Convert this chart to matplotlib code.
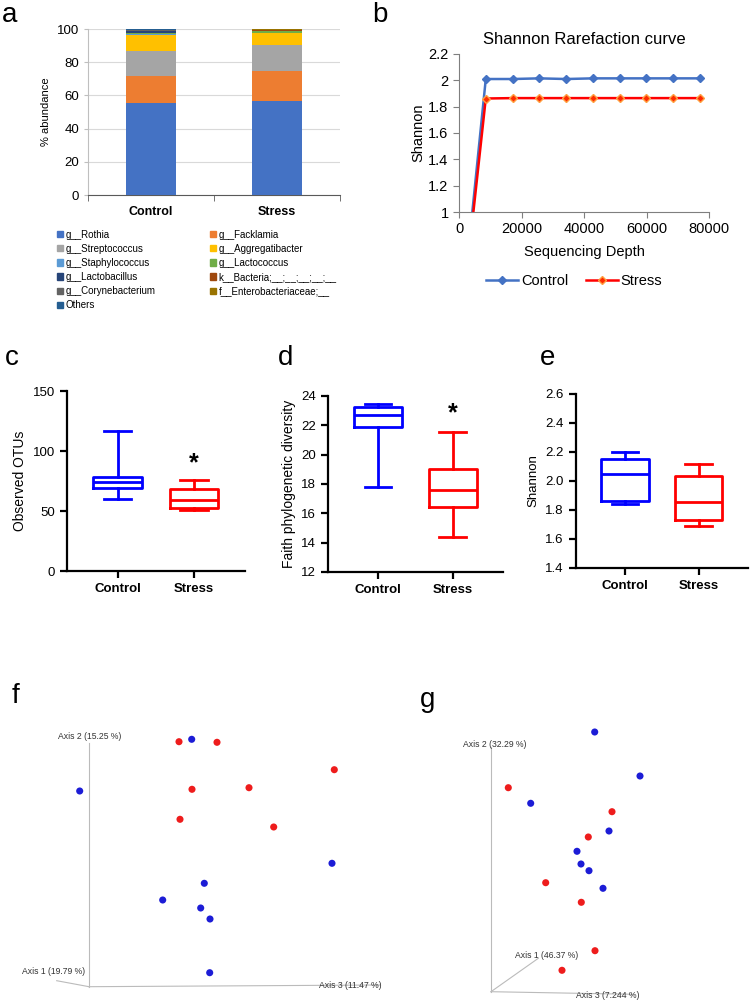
import matplotlib
matplotlib.use('agg')
import matplotlib.pyplot as plt
import matplotlib.ticker as tick
from matplotlib.patches import Patch

plt.rcParams['font.family'] = ['Liberation Sans', 'DejaVu Sans']

# ---- panel a: stacked taxa abundance ----
groups = ['Control', 'Stress']
taxa = ['g__Rothia', 'g__Facklamia', 'g__Streptococcus', 'g__Aggregatibacter',
        'g__Staphylococcus', 'g__Lactococcus', 'g__Lactobacillus',
        'k__Bacteria;__;__;__;__;__', 'g__Corynebacterium',
        'f__Enterobacteriaceae;__', 'Others']
taxa_colors = ['#4472C4', '#ED7D31', '#A5A5A5', '#FFC000', '#5B9BD5', '#70AD47',
               '#264478', '#9E480E', '#636363', '#997300', '#255E91']
control_abund = [55.5, 16.0, 15.5, 9.5, 0.5, 0.6, 1.2, 0.2, 0.3, 0.1, 0.6]
stress_abund = [56.7, 17.8, 16.0, 7.0, 0.3, 0.7, 0.3, 0.4, 0.3, 0.2, 0.3]

# ---- panel b: rarefaction ----
depth = [1, 8570, 17140, 25710, 34280, 42850, 51420, 59990, 68560, 77130]
rare_control = [0, 2.010, 2.010, 2.015, 2.010, 2.015, 2.015, 2.015, 2.015, 2.015]
rare_stress = [0, 1.862, 1.865, 1.865, 1.865, 1.865, 1.865, 1.865, 1.865, 1.865]

# ---- panels c-e: box summaries (whislo, q1, med, q3, whishi) ----
otu_control = [60.0, 68.9, 74.2, 78.3, 116.9]
otu_stress = [51.1, 52.8, 58.9, 68.6, 75.8]
faith_control = [17.8, 21.9, 22.68, 23.23, 23.48]
faith_stress = [14.4, 16.45, 17.6, 19.04, 21.57]
shan_control = [1.839, 1.859, 2.045, 2.154, 2.197]
shan_stress = [1.69, 1.728, 1.857, 2.032, 2.119]

# ---- panels f, g: projected PCoA coordinates ----
f_red_x = [179, 217, 334.3, 192, 249, 180, 273.7]
f_red_y = [741.7, 742.3, 769.7, 789.3, 787.7, 819.3, 827]
f_blue_x = [191.7, 79.7, 332, 204.3, 162.7, 200.7, 210, 209.7]
f_blue_y = [739.3, 791, 863.3, 883.3, 900, 908, 919, 972.7]
g_blue_x = [594.7, 640, 530.7, 609, 577, 581, 589, 603]
g_blue_y = [732, 776, 803.3, 831, 851.3, 864, 870.7, 888.3]
g_red_x = [508.3, 612, 588.3, 545.7, 581.3, 595, 562]
g_red_y = [787.7, 811.7, 837, 882.7, 902.3, 950.7, 970.3]
f_axis_labels = ['Axis 1 (19.79 %)', 'Axis 2 (15.25 %)', 'Axis 3 (11.47 %)']
g_axis_labels = ['Axis 1 (46.37 %)', 'Axis 2 (32.29 %)', 'Axis 3 (7.244 %)']

W, H = 750.0, 1000.0
fig = plt.figure(figsize=(7.5, 10), dpi=100)


def px_axes(x0, y0, x1, y1):
    return fig.add_axes([x0 / W, 1 - y1 / H, (x1 - x0) / W, (y1 - y0) / H])


def panel_label(x, y, s):
    fig.text(x / W, 1 - y / H, s, fontsize=20, ha='left', va='baseline')


# ===== a =====
ax = px_axes(88, 29, 340, 195)
bottom = [0, 0]
handles = []
for i, name in enumerate(taxa):
    vals = [control_abund[i], stress_abund[i]]
    ax.bar([0, 1], vals, width=0.4, bottom=bottom, color=taxa_colors[i], zorder=3)
    bottom = [bottom[0] + vals[0], bottom[1] + vals[1]]
    handles.append(Patch(color=taxa_colors[i], label=name))
ax.set_xlim(-0.5, 1.5)
ax.set_ylim(0, 100)
ax.yaxis.set_major_locator(tick.MultipleLocator(20))
ax.grid(axis='y', color='#D9D9D9', lw=0.8, zorder=0)
for s in ['top', 'right']:
    ax.spines[s].set_visible(False)
ax.spines['left'].set_color('#BFBFBF')
ax.spines['bottom'].set_color('#595959')
ax.set_xticks([0, 1])
ax.set_xticklabels(groups, fontsize=9, fontweight='bold')
ax.set_xticks([-0.5, 0.5, 1.5], minor=True)
ax.tick_params(axis='x', which='major', length=0, pad=8)
ax.tick_params(axis='x', which='minor', length=4, color='#595959')
ax.tick_params(axis='y', length=3, labelsize=9.5, color='#BFBFBF')
ax.set_ylabel('% abundance', fontsize=8)
order = [0, 2, 4, 6, 8, 10, 1, 3, 5, 7, 9]
leg = ax.legend([handles[k] for k in order], [taxa[k] for k in order], ncol=2,
                loc='upper left', bbox_to_anchor=(48 / W, 1 - 221 / H),
                bbox_transform=fig.transFigure, frameon=False, fontsize=7,
                handlelength=0.6, handleheight=0.6, handletextpad=0.3,
                labelspacing=0.42, columnspacing=5.6)
panel_label(2, 22, 'a')

# ===== b =====
ax = px_axes(459, 54, 709, 212)
ax.plot(depth, rare_control, color='#4472C4', lw=1.8, marker='D', ms=4.5,
        label='Control')
ax.plot(depth, rare_stress, color='#FF0000', lw=1.8, marker='D', ms=4.5,
        mfc='#FF2A00', mec='#FFA040', label='Stress')
ax.set_xlim(0, 80000)
ax.set_ylim(1, 2.2)
ax.set_xticks([0, 20000, 40000, 60000, 80000])
ax.set_yticks([1, 1.2, 1.4, 1.6, 1.8, 2, 2.2])
ax.yaxis.set_major_formatter(tick.FuncFormatter(lambda v, p: '%g' % v))
for s in ['top', 'right']:
    ax.spines[s].set_visible(False)
for s in ['left', 'bottom']:
    ax.spines[s].set_color('#7F7F7F')
ax.tick_params(labelsize=10.5, color='#7F7F7F', length=4)
ax.set_title('Shannon Rarefaction curve', fontsize=12, pad=7)
ax.set_xlabel('Sequencing Depth', fontsize=10.5, labelpad=6)
ax.set_ylabel('Shannon', fontsize=10.5, labelpad=2)
ax.legend(loc='upper center', bbox_to_anchor=(0.46, -0.31), ncol=2, frameon=False,
          fontsize=10.5, handlelength=2.2, handletextpad=0.2, columnspacing=1.2)
panel_label(372, 22, 'b')


# ===== c, d, e =====
def box_panel(box, cstats, sstats, ylim, step, ylabel, star_y, ylab_size=10):
    ax = px_axes(*box)
    for pos, st, col in [(1, cstats, '#0000FF'), (2, sstats, '#FF0000')]:
        d = dict(whislo=st[0], q1=st[1], med=st[2], q3=st[3], whishi=st[4],
                 fliers=[])
        kw = dict(color=col, linewidth=2)
        ax.bxp([d], positions=[pos], widths=0.64, capwidths=0.36,
               boxprops=kw, medianprops=kw, whiskerprops=kw, capprops=kw,
               showfliers=False)
    ax.set_xlim(0.33, 2.67)
    ax.set_ylim(*ylim)
    ax.yaxis.set_major_locator(tick.MultipleLocator(step))
    if step < 1:
        ax.yaxis.set_major_formatter(tick.FormatStrFormatter('%.1f'))
    ax.set_xticks([1, 2])
    ax.set_xticklabels(groups, fontsize=10, fontweight='bold')
    for s in ['top', 'right']:
        ax.spines[s].set_visible(False)
    for s in ['left', 'bottom']:
        ax.spines[s].set_linewidth(1.6)
    ax.tick_params(width=1.6, length=5, labelsize=9.5)
    ax.set_ylabel(ylabel, fontsize=ylab_size)
    if star_y is not None:
        ax.text(2, star_y, '*', ha='center', va='center', fontsize=18,
                fontweight='bold')
    return ax


box_panel((66.7, 391, 245, 571), otu_control, otu_stress, (0, 150), 50,
          'Observed OTUs', 90)
panel_label(5, 365, 'c')
box_panel((328, 396, 502.7, 572), faith_control, faith_stress, (12, 24), 2,
          'Faith phylogenetic diversity', 22.8)
panel_label(278, 365, 'd')
box_panel((575.7, 394, 748, 568), shan_control, shan_stress, (1.4, 2.6), 0.2,
          'Shannon', None, ylab_size=9.5)
panel_label(540, 365, 'e')


# ===== f, g: PCoA projections =====
def pcoa_panel(x0, x1, red_x, red_y, blue_x, blue_y, origin, ends, labels,
               label_pos):
    ax = px_axes(x0, 690, x1, 1000)
    ax.set_xlim(x0, x1)
    ax.set_ylim(1000, 690)
    ax.axis('off')
    for (ex, ey) in ends:
        ax.plot([origin[0], ex], [origin[1], ey], color='#BBBBBB', lw=0.8)
    for (lx, ly, ha), lab in zip(label_pos, labels):
        ax.text(lx, ly, lab, fontsize=6.2, color='#333333', ha=ha, va='center')
    ax.scatter(red_x, red_y, s=26, color='#EE1C1C', edgecolors='none', zorder=3)
    ax.scatter(blue_x, blue_y, s=26, color='#1C1CD6', edgecolors='none', zorder=3)
    return ax


pcoa_panel(0, 390, f_red_x, f_red_y, f_blue_x, f_blue_y, (89, 986.7),
           [(56.7, 980.7), (89, 743), (380, 985)], f_axis_labels,
           [(21.7, 971.7, 'left'), (58, 736.7, 'left'), (319, 985, 'left')])
panel_label(12, 703, 'f')
pcoa_panel(420, 750, g_red_x, g_red_y, g_blue_x, g_blue_y, (491, 991.7),
           [(538.3, 958.3), (491, 746.7), (633.3, 994.3)], g_axis_labels,
           [(515, 955.7, 'left'), (462.7, 744, 'left'), (575.7, 995, 'left')])
panel_label(420, 707, 'g')

fig.savefig('out.png', dpi=100, facecolor='white')
